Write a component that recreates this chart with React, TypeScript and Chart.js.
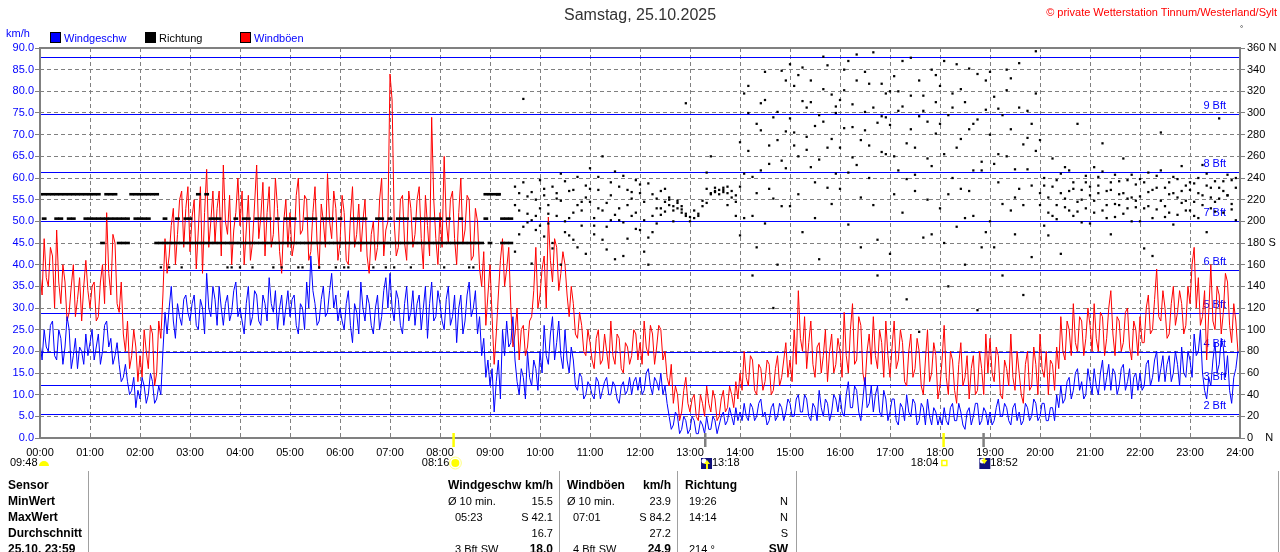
import React, { useEffect, useRef } from 'react';
import { Chart, ChartConfiguration, Plugin, registerables } from 'chart.js';

Chart.register(...registerables);

const FONT = '"Liberation Sans", Arial, sans-serif';

const hourLabels = [
  '00:00', '01:00', '02:00', '03:00', '04:00', '05:00', '06:00', '07:00', '08:00',
  '09:00', '10:00', '11:00', '12:00', '13:00', '14:00', '15:00', '16:00', '17:00',
  '18:00', '19:00', '20:00', '21:00', '22:00', '23:00', '24:00'
];

// readings on the full 5 minutes (hh:00, hh:05 ...), one row per hour
const windSpeed = [
  22, 25, 20, 27, 18, 23, 21, 25, 19, 16, 20, 24,
  22, 18, 24, 20, 27, 23, 19, 17, 14, 13, 11, 7,
  9, 12, 10, 13, 9, 10, 29, 30, 27, 31, 26, 33,
  27, 33, 25, 30, 38, 28, 32, 35, 26, 33, 29, 36,
  30, 24, 35, 28, 33, 26, 31, 37, 29, 25, 33, 30,
  28, 33, 24, 30, 36, 42, 31, 27, 35, 29, 38, 33,
  30, 25, 34, 22, 29, 36, 27, 31, 24, 33, 28, 37,
  38, 27, 32, 24, 35, 29, 26, 33, 30, 23, 36, 28,
  31, 25, 35, 28, 22, 33, 27, 36, 30, 24, 19, 14,
  12, 6, 18, 25, 27, 22, 18, 10, 14, 20, 12, 16,
  20, 26, 17, 28, 22, 19, 25, 15, 18, 11, 14, 10,
  12, 9, 13, 11, 14, 10, 12, 8, 13, 11, 10, 14,
  14, 11, 16, 10, 13, 15, 12, 5, 3, 5, 2, 4,
  2, 4, 1, 3, 5, 2, 4, 3, 6, 4, 5, 7,
  6, 8, 4, 7, 5, 9, 6, 4, 8, 5, 7, 6,
  8, 5, 10, 6, 9, 4, 7, 11, 5, 8, 6, 9,
  10, 5, 13, 7, 11, 4, 14, 8, 6, 12, 5, 9,
  6, 9, 3, 7, 10, 5, 8, 4, 7, 9, 3, 6,
  5, 7, 3, 8, 4, 6, 2, 7, 5, 8, 4, 6,
  6, 4, 9, 5, 7, 3, 8, 6, 4, 7, 5, 8,
  5, 8, 4, 7, 10, 12, 9, 14, 11, 16, 13, 10,
  13, 16, 10, 18, 14, 11, 15, 12, 17, 13, 9, 15,
  15, 12, 18, 14, 20, 16, 13, 19, 15, 17, 21, 14,
  18, 24, 20, 15, 9, 12, 22, 17, 21, 19, 8, 16
];

// readings 2.5 minutes later (hh:02:30, hh:07:30 ...)
const windSpeedMid = [
  18, 21, 26, 19, 25, 17, 28, 16, 23, 21, 17, 19,
  25, 21, 17, 26, 21, 17, 22, 13, 17, 10, 14, 11,
  14, 8, 15, 8, 12, 20, 24, 35, 23, 28, 32, 29,
  31, 26, 32, 24, 30, 35, 26, 30, 31, 27, 34, 28,
  27, 31, 26, 34, 27, 33, 27, 31, 34, 30, 26, 34,
  32, 26, 31, 25, 30, 34, 26, 32, 28, 34, 30, 27,
  27, 31, 26, 31, 24, 30, 33, 26, 30, 25, 34, 30,
  30, 34, 26, 31, 27, 34, 31, 25, 35, 31, 27, 34,
  27, 32, 26, 33, 30, 24, 33, 28, 34, 28, 23, 18,
  16, 13, 9, 19, 21, 28, 13, 16, 9, 14, 18, 11,
  15, 19, 24, 18, 27, 16, 18, 21, 12, 15, 9, 13,
  10, 14, 9, 13, 10, 13, 9, 12, 10, 14, 13, 11,
  10, 15, 12, 14, 11, 10, 8, 2, 6, 1, 5, 1,
  5, 1, 4, 1, 2, 5, 1, 5, 3, 7, 3, 4,
  4, 5, 8, 4, 8, 5, 3, 7, 4, 8, 4, 9,
  5, 9, 6, 10, 5, 8, 4, 7, 9, 4, 10, 6,
  6, 10, 7, 12, 6, 9, 7, 12, 10, 6, 11, 4,
  9, 4, 8, 4, 6, 9, 3, 8, 3, 5, 7, 3,
  3, 4, 7, 4, 8, 3, 6, 3, 8, 3, 7, 3,
  3, 7, 5, 8, 4, 7, 4, 3, 8, 4, 9, 4,
  8, 4, 7, 4, 7, 8, 13, 9, 15, 11, 9, 16,
  10, 12, 15, 11, 17, 16, 10, 16, 11, 16, 14, 11,
  11, 17, 12, 18, 13, 19, 17, 13, 20, 12, 15, 20,
  14, 19, 25, 11, 14, 18, 15, 23, 14, 11, 14, 20
];

const windGusts = [
  38, 46, 35, 42, 48, 31, 36, 29, 40, 32, 27, 41,
  30, 36, 28, 40, 52, 33, 45, 29, 24, 27, 19, 21,
  19, 25, 16, 24, 15, 23, 46, 42, 53, 47, 57, 53,
  43, 55, 48, 38, 62, 50, 45, 57, 63, 47, 40, 52,
  49, 40, 56, 45, 63, 51, 42, 58, 47, 53, 38, 55,
  52, 45, 60, 48, 55, 43, 58, 39, 50, 61, 46, 53,
  45, 52, 40, 58, 47, 43, 55, 38, 50, 44, 60, 48,
  84, 50, 44, 56, 41, 53, 47, 58, 39, 49, 74, 46,
  52, 65, 45, 57, 40, 60, 48, 55, 42, 50, 35, 26,
  40, 17, 33, 46, 39, 30, 24, 18, 26, 21, 28, 44,
  33, 42, 51, 36, 44, 38, 40, 28, 31, 23, 26, 19,
  22, 16, 25, 18, 20, 27, 17, 23, 15, 21, 19, 24,
  22, 27, 19, 24, 21, 25, 20, 12, 8, 10, 6, 14,
  6, 10, 4, 8, 12, 6, 9, 5, 11, 7, 10, 13,
  15, 20, 12, 18, 10, 16, 13, 17, 11, 19, 14, 22,
  18, 25, 34, 20, 16, 27, 14, 22, 19, 13, 24, 17,
  20, 29, 15, 31, 18, 26, 12, 24, 28, 16, 22, 27,
  14, 27, 18, 22, 12, 24, 16, 20, 10, 25, 15, 19,
  12, 26, 10, 18, 8, 22, 14, 9, 19, 11, 16, 24,
  23, 13, 19, 9, 16, 24, 11, 15, 8, 20, 12, 17,
  24, 14, 10, 17, 21, 28, 18, 25, 31, 20, 27, 23,
  26, 31, 20, 28, 23, 34, 19, 27, 22, 30, 18, 25,
  28, 22, 33, 25, 39, 27, 30, 24, 35, 29, 31, 26,
  31, 44, 37, 28, 18, 40, 25, 33, 29, 36, 22, 27
];

const windGustsMid = [
  33, 37, 44, 30, 36, 40, 27, 35, 28, 37, 35, 34,
  35, 27, 36, 31, 38, 47, 31, 36, 20, 16, 25, 13,
  14, 20, 26, 12, 27, 33, 38, 49, 40, 55, 44, 58,
  51, 39, 58, 52, 44, 57, 53, 42, 50, 56, 48, 60,
  57, 48, 41, 54, 46, 59, 52, 44, 60, 43, 50, 44,
  42, 56, 47, 56, 41, 52, 45, 54, 44, 50, 57, 41,
  56, 41, 51, 44, 54, 50, 42, 47, 41, 55, 42, 50,
  78, 42, 55, 45, 57, 44, 55, 46, 56, 42, 55, 40,
  44, 50, 55, 46, 52, 45, 56, 41, 53, 39, 43, 33,
  28, 24, 41, 35, 44, 21, 30, 25, 19, 27, 34, 30,
  39, 30, 41, 46, 34, 43, 33, 35, 24, 29, 20, 25,
  18, 23, 17, 24, 16, 19, 24, 16, 22, 17, 25, 18,
  17, 21, 26, 17, 26, 18, 14, 17, 12, 4, 11, 8,
  9, 5, 10, 5, 8, 11, 4, 9, 6, 12, 7, 9,
  11, 14, 19, 11, 17, 11, 18, 10, 16, 12, 18, 14,
  13, 17, 23, 28, 22, 17, 21, 15, 25, 20, 15, 23,
  14, 19, 25, 17, 28, 15, 20, 17, 19, 25, 14, 19,
  21, 16, 25, 13, 20, 14, 23, 12, 18, 13, 22, 9,
  18, 14, 20, 11, 17, 12, 19, 16, 10, 20, 10, 15,
  15, 21, 10, 18, 12, 14, 20, 10, 17, 11, 21, 10,
  16, 20, 18, 11, 16, 20, 27, 19, 22, 28, 19, 30,
  20, 23, 29, 19, 30, 24, 28, 20, 29, 21, 27, 19,
  22, 30, 24, 32, 28, 34, 23, 31, 26, 34, 24, 35,
  40, 30, 26, 34, 29, 27, 35, 24, 38, 26, 31, 20
];

// wind direction in degrees, up to three readings per 5-minute slot
const dirMain = [
  225, 225, 225, 225, 225, 225, 225, 225, 225, 225, 225, 225,
  225, 225, 225, 180, 225, 225, 225, 180, 180, 180, 225, 225,
  225, 225, 225, 225, 180, 180, 180, 180, 180, 180, 180, 180,
  180, 180, 180, 180, 180, 180, 180, 180, 180, 180, 180, 180,
  180, 180, 180, 180, 180, 180, 180, 180, 180, 180, 180, 180,
  180, 180, 180, 180, 180, 180, 180, 180, 180, 180, 180, 180,
  180, 180, 180, 180, 180, 180, 180, 180, 180, 180, 180, 180,
  180, 180, 180, 180, 180, 180, 180, 180, 180, 180, 180, 180,
  180, 180, 180, 180, 180, 180, 180, 180, 180, 180, 180, 225,
  225, 225, 225, 180, 202.5, 180, 232, 210, 195, 223, 201, 220,
  212, 224, 198, 232, 205, 219, 190, 228, 208, 215, 196, 222,
  218, 203, 229, 210, 195, 224, 206, 232, 199, 215, 221, 208,
  192, 218, 185, 205, 212, 228, 218, 215, 210, 212, 208, 205,
  200, 203, 207, 214, 217, 225, 228, 229, 231, 226, 222, 218,
  232, 318, 265, 205, 290, 247, 338, 270, 221, 301, 256, 283,
  295, 325, 260, 342, 278, 310, 236, 298, 352, 268, 317, 244,
  312, 286, 348, 259, 330, 275, 301, 240, 356, 291, 264, 318,
  289, 334, 247, 306, 272, 351, 228, 297, 316, 258, 340, 281,
  325, 262, 298, 240, 345, 276, 310, 228, 290, 336, 255, 303,
  280, 315, 236, 298, 260, 332, 222, 305, 271, 248, 290, 318,
  226, 240, 208, 232, 215, 244, 221, 210, 236, 218, 229, 212,
  232, 219, 241, 210, 228, 236, 216, 225, 207, 238, 222, 213,
  223, 236, 214, 229, 242, 219, 231, 208, 226, 239, 217, 233,
  229, 218, 240, 224, 233, 212, 237, 221, 228, 243, 216, 231
];

const dirExtra = [
  null, 202.5, null, null, 202.5, 202.5, null, 202.5, 202.5, null, null, 202.5,
  202.5, 202.5, 202.5, 202.5, 202.5, 202.5, 202.5, 202.5, 202.5, 202.5, null, 202.5,
  202.5, 202.5, 202.5, null, 225, 157.5, 202.5, 157.5, null, 202.5, 157.5, 202.5,
  202.5, null, 225, null, 225, 202.5, 202.5, 202.5, null, 157.5, 157.5, 202.5,
  157.5, 202.5, 202.5, 157.5, 202.5, 202.5, 202.5, 202.5, 157.5, 202.5, 157.5, 202.5,
  202.5, 202.5, 157.5, 157.5, 202.5, 202.5, 202.5, 157.5, 202.5, 202.5, 202.5, 157.5,
  202.5, 157.5, 157.5, 202.5, 202.5, 202.5, 202.5, null, 157.5, 202.5, 202.5, 157.5,
  202.5, 157.5, 202.5, 202.5, 202.5, 157.5, 202.5, 202.5, 202.5, 202.5, 202.5, 202.5,
  202.5, 157.5, 202.5, null, null, 202.5, null, 157.5, 157.5, null, null, 202.5,
  180, null, 225, 202.5, 180, 202.5, 172, 226, 313, 207, 161, 192,
  238, 186, 215, 175, 226, 160, 237, 203, 183, 241, 210, 170,
  249, 188, 212, 260, 174, 236, 165, 201, 242, 184, 227, 193,
  234, 172, 160, 225, 198, 206, 230, 222, 200, 219, 214, 309,
  null, null, null, null, 245, 260, 227, null, 229, 215, null, 205,
  187, 244, 300, 150, 226, 309, 198, 253, 120, 275, 214, 330,
  214, 270, 335, 190, 305, 250, 288, 165, 322, 231, 276, 300,
  230, 340, 197, 308, 252, 176, 284, 327, 215, 150, 297, 262,
  170, 260, 320, 208, 128, 285, 243, 98, 302, 220, 188, 335,
  212, 180, 140, 318, 195, 230, 160, 285, 205, 118, 247, 190,
  200, 176, 262, 150, 340, 210, 188, 230, 132, 277, 167, 357,
  275, 196, 187, 258, 202, 170, 250, 228, 205, 290, 199, 242,
  198, 250, 226, 272, 203, 188, 243, 215, 258, 221, 200, 234,
  200, 175, 245, 168, 211, 282, 204, 236, 197, 222, 251, 210,
  210, 235, 203, 252, 190, 231, 218, 295, 208, 224, 238, 201
];

const dirThird = [
  null, null, null, null, null, null, null, null, null, null, null, null,
  null, null, null, null, null, null, null, null, null, null, null, null,
  null, null, null, null, null, null, null, null, null, null, null, null,
  null, null, null, null, null, null, null, null, null, null, null, null,
  null, null, null, null, null, null, null, null, null, null, null, null,
  null, null, null, null, null, null, null, null, null, null, null, null,
  null, null, null, null, null, null, null, null, null, null, null, null,
  null, null, null, null, null, null, null, null, null, null, null, null,
  null, null, null, null, null, null, null, null, null, null, null, null,
  null, null, null, null, null, null, 215, 188, 236, 199, 227, 205,
  196, 230, 207, 180, 221, 244, 200, 187, 229, 176, 218, 233,
  230, 196, 241, 183, 217, 201, 246, 212, 168, 229, 205, 238,
  226, 201, 235, 190, 221, 212, 209, 220, 214, 217, 211, 207,
  204, 210, 205, 219, 230, 226, 231, 225, 227, 232, 228, 224,
  273, 203, 325, 241, 176, 284, 312, 230, 296, 160, 339, 249,
  345, 282, 225, 311, 266, 330, 203, 257, 292, 344, 216, 306,
  268, 321, 245, 287, 354, 222, 338, 270, 305, 183, 327, 296,
  320, 225, 302, 348, 239, 316, 268, 330, 185, 292, 251, 310,
  290, 348, 225, 305, 268, 322, 203, 341, 247, 294, 176, 330,
  338, 253, 304, 216, 321, 285, 248, 346, 215, 302, 233, 265,
  215, 233, 222, 205, 238, 226, 213, 247, 230, 209, 220, 236,
  224, 208, 233, 246, 215, 229, 204, 237, 226, 212, 243, 219,
  239, 212, 227, 203, 231, 247, 214, 225, 241, 206, 228, 219,
  236, 205, 226, 215, 244, 222, 209, 231, 237, 224, 211, 240
];

// Beaufort thresholds in km/h
const bftLevels = [5.6, 12.2, 19.8, 28.8, 38.7, 50, 61.5, 74.8, 88];
const bftLabels = ['2 Bft', '3 Bft', '4 Bft', '5 Bft', '6 Bft', '7 Bft', '8 Bft', '9 Bft', ''];

// sun / moon events (minutes of day)
const eventMinutes = [496, 798, 1084, 1132];
const eventLabels = ['08:16', '13:18', '18:04', '18:52'];
const eventKinds = ['sunrise', 'moonrise', 'sunset', 'moonset'];
const dayLength = '09:48';

const SLOT = 5;
const QUANTIZED_UNTIL = 114; // before ~09:30 the vane reports 22.5° steps

// the steady readings of the morning show up as short dashes
const isDash = (c: any) => c.dataIndex < QUANTIZED_UNTIL && c.raw && c.raw.y !== 157.5;

const drawMoon = (ctx: CanvasRenderingContext2D, cx: number, cy: number, up: boolean) => {
  ctx.fillStyle = '#10107a';
  ctx.fillRect(cx - 5, cy - 6, 11, 11);
  ctx.fillStyle = '#ffffff';
  ctx.beginPath();
  ctx.arc(cx - 2, cy - 3, 2.5, 0, Math.PI * 2);
  ctx.fill();
  ctx.fillStyle = '#ffff00';
  ctx.beginPath();
  if (up) {
    ctx.moveTo(cx + 1, cy - 4);
    ctx.lineTo(cx + 4, cy);
    ctx.lineTo(cx - 2, cy);
  } else {
    ctx.moveTo(cx - 3, cy - 4);
    ctx.lineTo(cx + 3, cy - 4);
    ctx.lineTo(cx, cy);
  }
  ctx.fill();
  ctx.fillRect(up ? cx : cx - 1, up ? cy : cy - 6, 2, up ? 5 : 3);
};

const overlayPlugin: Plugin = {
  id: 'windOverlay',
  beforeDatasetsDraw(chart) {
    const { ctx, chartArea, scales } = chart;
    const y = scales.y;
    ctx.save();
    ctx.strokeStyle = '#0000ff';
    ctx.lineWidth = 1;
    ctx.fillStyle = '#0000ff';
    ctx.font = `11px ${FONT}`;
    ctx.textAlign = 'right';
    ctx.textBaseline = 'middle';
    bftLevels.forEach((lvl, i) => {
      const py = Math.round(y.getPixelForValue(lvl)) + 0.5;
      ctx.beginPath();
      ctx.moveTo(chartArea.left, py);
      ctx.lineTo(chartArea.right, py);
      ctx.stroke();
      if (bftLabels[i]) ctx.fillText(bftLabels[i], chartArea.right - 14, py - 9);
    });
    ctx.restore();
  },
  afterDatasetsDraw(chart) {
    const { ctx, chartArea } = chart;
    ctx.save();
    ctx.strokeStyle = '#808080';
    ctx.lineWidth = 2;
    ctx.strokeRect(chartArea.left, chartArea.top, chartArea.right - chartArea.left, chartArea.bottom - chartArea.top);
    ctx.restore();
  },
  afterDraw(chart) {
    const { ctx, chartArea, scales } = chart;
    const x = scales.x;
    const rowY = 463;
    ctx.save();
    ctx.font = `11px ${FONT}`;
    ctx.textBaseline = 'middle';
    ctx.fillStyle = '#000';
    ctx.textAlign = 'left';
    ctx.fillText(dayLength, 10, rowY);
    ctx.fillStyle = '#ffff00';
    ctx.beginPath();
    ctx.arc(44, rowY + 3, 5, Math.PI, 0);
    ctx.fill();

    eventMinutes.forEach((m, i) => {
      const px = x.getPixelForValue(m);
      const kind = eventKinds[i];
      const isSun = kind === 'sunrise' || kind === 'sunset';
      ctx.fillStyle = isSun ? '#ffff00' : '#808080';
      ctx.fillRect(px - 1, chartArea.bottom - 5, 2.5, 14);
      ctx.fillStyle = '#000';
      if (kind === 'sunrise') {
        ctx.textAlign = 'right';
        ctx.fillText(eventLabels[i], px - 4, rowY);
        ctx.fillStyle = '#ffff00';
        ctx.beginPath();
        ctx.arc(px + 2, rowY, 4, 0, Math.PI * 2);
        ctx.fill();
        ctx.strokeStyle = '#ffff80';
        ctx.lineWidth = 1;
        ctx.beginPath();
        ctx.arc(px + 2, rowY, 6, 0, Math.PI * 2);
        ctx.stroke();
      } else if (kind === 'sunset') {
        ctx.textAlign = 'right';
        ctx.fillText(eventLabels[i], px - 5, rowY);
        ctx.strokeStyle = '#ffff00';
        ctx.lineWidth = 1.5;
        ctx.strokeRect(px - 1.5, rowY - 2.5, 5, 5);
      } else {
        drawMoon(ctx, px + 1, rowY + 1, kind === 'moonrise');
        ctx.fillStyle = '#000';
        ctx.textAlign = 'left';
        ctx.fillText(eventLabels[i], px + 7, rowY);
      }
    });
    ctx.restore();
  }
};

const WindChart: React.FC = () => {
  const chartRef = useRef<HTMLCanvasElement>(null);
  const chartInstanceRef = useRef<Chart | null>(null);

  useEffect(() => {
    if (!chartRef.current) return;
    if (chartInstanceRef.current) chartInstanceRef.current.destroy();
    const ctx = chartRef.current.getContext('2d');
    if (!ctx) return;

    const toPoints = (arr: (number | null)[]) => arr.map((v, i) => ({ x: i * SLOT, y: v }));
    const mergePoints = (full: number[], half: number[]) =>
      full.flatMap((v, i) => [
        { x: i * SLOT, y: v },
        { x: i * SLOT + SLOT / 2, y: half[i] }
      ]);

    const dirStyle = {
      showLine: false,
      yAxisID: 'yDir',
      borderColor: '#000',
      backgroundColor: '#000',
      pointStyle: (c: any) => (isDash(c) ? 'line' : 'rect'),
      pointRadius: (c: any) => (isDash(c) ? 2.4 : 1.6),
      pointBorderWidth: (c: any) => (isDash(c) ? 2.6 : 0),
      pointHoverRadius: 0,
      order: 0
    };

    const config: ChartConfiguration = {
      type: 'line',
      data: {
        datasets: [
          { label: 'Richtung', data: toPoints(dirMain), ...dirStyle } as any,
          { label: 'Richtung', data: toPoints(dirExtra), ...dirStyle } as any,
          { label: 'Richtung', data: toPoints(dirThird), ...dirStyle } as any,
          {
            label: 'Windgeschw',
            data: mergePoints(windSpeed, windSpeedMid),
            yAxisID: 'y',
            borderColor: '#0000ff',
            borderWidth: 1,
            pointRadius: 0,
            tension: 0,
            order: 1
          },
          {
            label: 'Windböen',
            data: mergePoints(windGusts, windGustsMid),
            yAxisID: 'y',
            borderColor: '#ff0000',
            borderWidth: 1,
            pointRadius: 0,
            tension: 0,
            order: 2
          }
        ]
      },
      options: {
        responsive: false,
        animation: false,
        events: [],
        layout: { padding: { top: 48, left: 0, right: 0, bottom: 0 } },
        plugins: { legend: { display: false }, tooltip: { enabled: false } },
        scales: {
          x: {
            type: 'linear',
            min: 0,
            max: 1440,
            afterFit: (s: any) => { s.height = 37; },
            grid: { color: '#808080', drawTicks: false, lineWidth: 1 },
            border: { display: false, dash: [4, 3] },
            ticks: {
              stepSize: 60,
              autoSkip: false,
              maxRotation: 0,
              padding: 8,
              color: '#000',
              font: { family: FONT, size: 11 },
              callback: (v: any) => hourLabels[Math.round(Number(v) / 60)] ?? ''
            }
          },
          y: {
            position: 'left',
            min: 0,
            max: 90,
            afterFit: (s: any) => { s.width = 40; },
            grid: { color: '#808080', tickLength: 5, tickColor: '#808080' },
            border: { display: false, dash: [4, 3] },
            ticks: {
              stepSize: 5,
              padding: 1,
              color: '#0000ff',
              font: { family: FONT, size: 11 },
              callback: (v: any) => Number(v).toFixed(1)
            }
          },
          yDir: {
            position: 'right',
            min: 0,
            max: 360,
            afterFit: (s: any) => { s.width = 40; },
            grid: { drawOnChartArea: false, color: '#808080', tickLength: 5 },
            border: { display: false },
            ticks: {
              stepSize: 20,
              padding: 2,
              color: '#000',
              font: { family: FONT, size: 11 },
              callback: (v: any) => (v === 0 ? '0    N' : v === 180 ? '180 S' : v === 360 ? '360 N' : String(v))
            }
          }
        }
      },
      plugins: [overlayPlugin]
    };

    chartInstanceRef.current = new Chart(ctx, config);

    return () => {
      if (chartInstanceRef.current) {
        chartInstanceRef.current.destroy();
        chartInstanceRef.current = null;
      }
    };
  }, []);

  return (
    <canvas
      ref={chartRef}
      width={1280}
      height={475}
      style={{ position: 'absolute', left: 0, top: 0, width: 1280, height: 475 }}
    />
  );
};

type TxtProps = {
  x: number;
  y: number;
  children: React.ReactNode;
  right?: boolean;
  bold?: boolean;
  color?: string;
  size?: number;
};

const Txt: React.FC<TxtProps> = ({ x, y, children, right, bold, color = '#000', size = 11 }) => (
  <div
    style={{
      position: 'absolute',
      top: y - 8,
      height: 16,
      lineHeight: '16px',
      left: right ? undefined : x,
      right: right ? 1280 - x : undefined,
      whiteSpace: 'pre',
      fontSize: size,
      fontWeight: bold ? 'bold' : 'normal',
      color
    }}
  >
    {children}
  </div>
);

const Swatch: React.FC<{ x: number; color: string }> = ({ x, color }) => (
  <div
    style={{
      position: 'absolute',
      left: x,
      top: 32,
      width: 9,
      height: 9,
      background: color,
      border: '1px solid #000'
    }}
  />
);

const VLine: React.FC<{ x: number }> = ({ x }) => (
  <div style={{ position: 'absolute', left: x, top: 471, width: 1, height: 81, background: '#a0a0a0' }} />
);

export default function App() {
  return (
    <div
      style={{
        position: 'absolute',
        left: 0,
        top: 0,
        width: 1280,
        height: 552,
        overflow: 'hidden',
        background: '#fff',
        fontFamily: FONT
      }}
    >
      <WindChart />
      <Txt x={640} y={15} size={16} color="#333">
        <span style={{ position: 'relative', left: -76 }}>Samstag, 25.10.2025</span>
      </Txt>
      <Txt x={1277} y={12} right color="#ff0000">© private Wetterstation Tinnum/Westerland/Sylt</Txt>
      <Txt x={1240} y={29} size={8}>°</Txt>
      <Txt x={6} y={33} color="#0000ff">km/h</Txt>
      <Swatch x={50} color="#0000ff" />
      <Txt x={64} y={38} color="#0000ff">Windgeschw</Txt>
      <Swatch x={145} color="#000000" />
      <Txt x={159} y={38}>Richtung</Txt>
      <Swatch x={240} color="#ff0000" />
      <Txt x={254} y={38} color="#0000ff">Windböen</Txt>

      <VLine x={88} />
      <VLine x={559} />
      <VLine x={677} />
      <VLine x={796} />
      <VLine x={1278} />

      <Txt x={8} y={485} bold size={12}>Sensor</Txt>
      <Txt x={8} y={501} bold size={12}>MinWert</Txt>
      <Txt x={8} y={517} bold size={12}>MaxWert</Txt>
      <Txt x={8} y={533} bold size={12}>Durchschnitt</Txt>
      <Txt x={8} y={549} bold size={12}>25.10. 23:59</Txt>

      <Txt x={448} y={485} bold size={12}>Windgeschw</Txt>
      <Txt x={553} y={485} right bold size={12}>km/h</Txt>
      <Txt x={448} y={501}>Ø 10 min.</Txt>
      <Txt x={553} y={501} right>15.5</Txt>
      <Txt x={455} y={517}>05:23</Txt>
      <Txt x={553} y={517} right>S 42.1</Txt>
      <Txt x={553} y={533} right>16.7</Txt>
      <Txt x={455} y={549}>3 Bft SW</Txt>
      <Txt x={553} y={549} right bold size={12}>18.0</Txt>

      <Txt x={567} y={485} bold size={12}>Windböen</Txt>
      <Txt x={671} y={485} right bold size={12}>km/h</Txt>
      <Txt x={567} y={501}>Ø 10 min.</Txt>
      <Txt x={671} y={501} right>23.9</Txt>
      <Txt x={573} y={517}>07:01</Txt>
      <Txt x={671} y={517} right>S 84.2</Txt>
      <Txt x={671} y={533} right>27.2</Txt>
      <Txt x={573} y={549}>4 Bft SW</Txt>
      <Txt x={671} y={549} right bold size={12}>24.9</Txt>

      <Txt x={685} y={485} bold size={12}>Richtung</Txt>
      <Txt x={689} y={501}>19:26</Txt>
      <Txt x={788} y={501} right>N</Txt>
      <Txt x={689} y={517}>14:14</Txt>
      <Txt x={788} y={517} right>N</Txt>
      <Txt x={788} y={533} right>S</Txt>
      <Txt x={689} y={549}>214 °</Txt>
      <Txt x={788} y={549} right bold size={12}>SW</Txt>
    </div>
  );
}
